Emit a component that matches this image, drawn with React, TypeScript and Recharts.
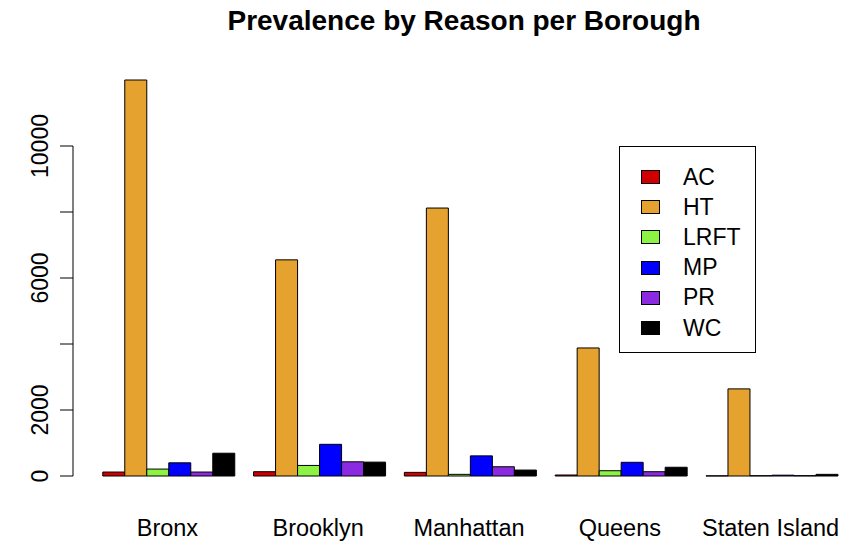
import React from "react";
import { BarChart, Bar, XAxis, YAxis, Legend } from "recharts";

const BOROUGHS = ["Bronx", "Brooklyn", "Manhattan", "Queens", "Staten Island"];
const AC = [120, 130, 110, 30, 5];
const HT = [12000, 6550, 8120, 3880, 2640];
const LRFT = [210, 320, 50, 160, 10];
const MP = [400, 960, 610, 415, 25];
const PR = [120, 430, 280, 130, 10];
const WC = [690, 420, 180, 265, 50];

const Y_TICKS = [0, 2000, 4000, 6000, 8000, 10000];
const Y_LABELED = [0, 2000, 6000, 10000];
const Y_MAX = 13000;

const SERIES = [
  { key: "AC", values: AC, color: "#D00000" },
  { key: "HT", values: HT, color: "#E6A22F" },
  { key: "LRFT", values: LRFT, color: "#8CF244" },
  { key: "MP", values: MP, color: "#0000FF" },
  { key: "PR", values: PR, color: "#8A2BE2" },
  { key: "WC", values: WC, color: "#000000" },
];

const data = BOROUGHS.map((b, i) => {
  const row: Record<string, string | number> = { borough: b };
  SERIES.forEach((s) => (row[s.key] = s.values[i]));
  return row;
});

const FONT = '"Liberation Sans", Arial, Helvetica, sans-serif';

function XTick(props: any) {
  const { x, y, payload } = props;
  return (
    <text x={x} y={y + 60} textAnchor="middle" fontFamily={FONT} fontSize={23.5} fill="#000">
      {payload.value}
    </text>
  );
}

function YTick(props: any) {
  const { x, y, payload, height } = props;
  const v = payload.value;
  const axisX = x - 19;
  return (
    <g>
      <line x1={x - 32} y1={y} x2={axisX} y2={y} stroke="#000" strokeWidth={1} />
      {v === 0 && height ? (
        <line x1={axisX} y1={y} x2={axisX} y2={y - (height * 10000) / Y_MAX} stroke="#000" strokeWidth={1} />
      ) : null}
      {Y_LABELED.includes(v) ? (
        <text
          x={x - 44}
          y={y}
          transform={`rotate(-90 ${x - 44} ${y})`}
          textAnchor="middle"
          fontFamily={FONT}
          fontSize={23}
          fill="#000"
        >
          {v}
        </text>
      ) : null}
    </g>
  );
}

function LegendBox() {
  return (
    <div
      style={{
        width: 135,
        height: 190,
        border: "1px solid #000",
        background: "#fff",
        paddingTop: 15,
        boxSizing: "content-box",
        fontFamily: FONT,
        fontSize: 23,
      }}
    >
      {SERIES.map((s) => (
        <div key={s.key} style={{ height: 30.2, display: "flex", alignItems: "center" }}>
          <span
            style={{
              display: "inline-block",
              width: 17,
              height: 12,
              marginLeft: 21,
              marginRight: 23,
              background: s.color,
              border: "1px solid #000",
            }}
          />
          <span style={{ lineHeight: 1 }}>{s.key}</span>
        </div>
      ))}
    </div>
  );
}

export default function App() {
  return (
    <div style={{ position: "relative", width: 862, height: 557, background: "#fff" }}>
      <style>{`body{margin:0}`}</style>
      <div
        style={{
          position: "absolute",
          left: 0,
          width: 928,
          top: 5,
          textAlign: "center",
          fontFamily: FONT,
          fontWeight: "bold",
          fontSize: 28,
          color: "#000",
          whiteSpace: "nowrap",
        }}
      >
        Prevalence by Reason per Borough
      </div>
      <BarChart
        width={862}
        height={557}
        data={data}
        margin={{ top: 47, right: 16, left: 0, bottom: 0 }}
        barGap={0}
        barCategoryGap={10.77}
      >
        <XAxis
          dataKey="borough"
          height={81}
          axisLine={false}
          tickLine={false}
          tickSize={0}
          tickMargin={0}
          interval={0}
          tick={<XTick />}
        />
        <YAxis
          width={92}
          domain={[0, Y_MAX]}
          ticks={Y_TICKS}
          axisLine={false}
          tickLine={false}
          tickSize={0}
          tickMargin={0}
          tick={<YTick />}
        />
        <Legend
          layout="vertical"
          verticalAlign="middle"
          align="center"
          wrapperStyle={{ position: "absolute", left: 619, top: 146, width: "auto" }}
          content={() => <LegendBox />}
        />
        {SERIES.map((s) => (
          <Bar
            key={s.key}
            dataKey={s.key}
            name={s.key}
            fill={s.color}
            stroke="#000"
            strokeWidth={1}
            isAnimationActive={false}
          />
        ))}
      </BarChart>
    </div>
  );
}
